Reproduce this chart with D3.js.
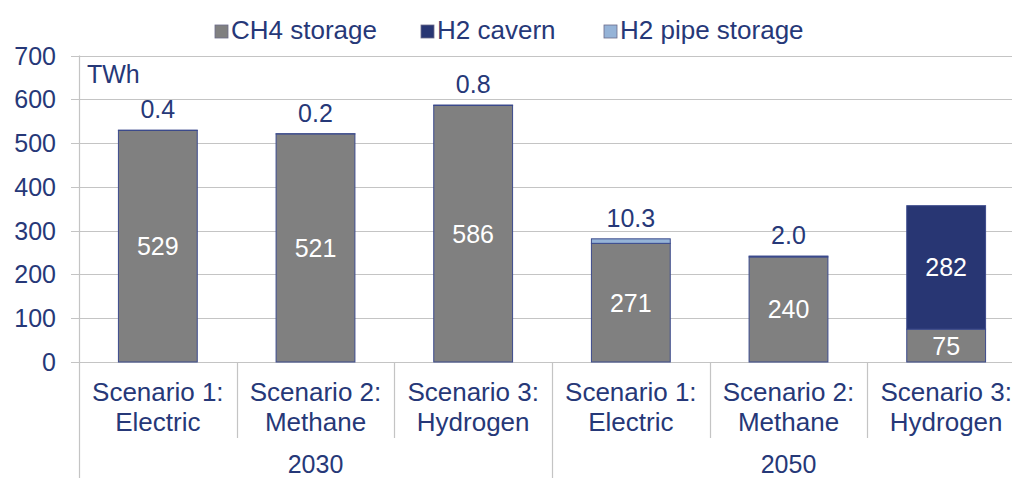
<!DOCTYPE html>
<html>
<head>
<meta charset="utf-8">
<script src="https://cdn.jsdelivr.net/npm/d3@7"></script>
<style>
  body { margin: 0; background: #fff; }
  text { font-family: "Liberation Sans", Arial, sans-serif; }
</style>
</head>
<body>
<div id="chart"></div>
<script>
var width = 1012;
var height = 478;

// data
var scenarios = ["Scenario 1:|Electric", "Scenario 2:|Methane", "Scenario 3:|Hydrogen",
                 "Scenario 1:|Electric", "Scenario 2:|Methane", "Scenario 3:|Hydrogen"];
var years = ["2030", "2030", "2030", "2050", "2050", "2050"];
var ch4Storage = [529, 521, 586, 271, 240, 75];
var h2Cavern = [0.4, 0.2, 0.8, 0, 2.0, 282];
var h2Pipe = [0, 0, 0, 10.3, 0, 0];
var yTicks = [0, 100, 200, 300, 400, 500, 600, 700];
var seriesNames = ["CH4 storage", "H2 cavern", "H2 pipe storage"];

var colors = ["#808080", "#283673", "#95b3d7"];
var textColor = "#263878";

var x0 = 79, plotRight = 1025, y0 = 362, yTop = 55.5;

var svg = d3.select("#chart")
            .append("svg")
            .attr("width", width)
            .attr("height", height);

var x = d3.scaleBand()
          .domain(d3.range(scenarios.length))
          .range([x0, plotRight])
          .paddingInner(0)
          .paddingOuter(0);

var y = d3.scaleLinear().domain([0, 700]).range([y0, yTop]);

// gridlines
svg.append("g").selectAll("line")
   .data(yTicks)
   .enter().append("line")
   .attr("x1", x0 - 8)
   .attr("x2", width)
   .attr("y1", function(d){ return Math.round(y(d)) + 0.5; })
   .attr("y2", function(d){ return Math.round(y(d)) + 0.5; })
   .attr("stroke", "#c4c4c4")
   .attr("stroke-width", 1.2);

// y labels
svg.append("g").selectAll("text")
   .data(yTicks)
   .enter().append("text")
   .attr("x", 56)
   .attr("y", function(d){ return y(d) + 9; })
   .attr("text-anchor", "end")
   .attr("fill", textColor)
   .style("font-size", "25px")
   .text(function(d){ return d; });

// vertical axis line
svg.append("line")
   .attr("x1", x0 + 0.5).attr("x2", x0 + 0.5)
   .attr("y1", yTop).attr("y2", height)
   .attr("stroke", "#c4c4c4").attr("stroke-width", 1.2);

// category separators
svg.append("g").selectAll("line")
   .data(d3.range(1, scenarios.length + 1))
   .enter().append("line")
   .attr("x1", function(i){ return Math.round(x0 + i * x.bandwidth()) + 0.5; })
   .attr("x2", function(i){ return Math.round(x0 + i * x.bandwidth()) + 0.5; })
   .attr("y1", y0)
   .attr("y2", function(i){ return years[i] !== years[i - 1] ? height : 438; })
   .attr("stroke", "#c4c4c4").attr("stroke-width", 1.2);

svg.append("text")
   .attr("x", 87).attr("y", 83)
   .attr("fill", textColor)
   .style("font-size", "25px")
   .text("TWh");

// stack
var rows = scenarios.map(function(s, i){
  return { i: i, ch4: ch4Storage[i], cavern: h2Cavern[i], pipe: h2Pipe[i] };
});
var stack = d3.stack().keys(["ch4", "cavern", "pipe"]);
var layers = stack(rows);

var barW = x.bandwidth() * 0.5;

var g = svg.append("g");
layers.forEach(function(layer, k){
  g.selectAll(".bar" + k)
   .data(layer)
   .enter().append("rect")
   .attr("x", function(d){ return x(d.data.i) + (x.bandwidth() - barW) / 2; })
   .attr("width", barW)
   .attr("y", function(d){ return y(d[1]); })
   .attr("height", function(d){ return y(d[0]) - y(d[1]); })
   .attr("fill", colors[k])
   .attr("stroke", function(d){ return d[1] - d[0] > 0 ? "#3b4a8c" : "none"; })
   .attr("stroke-width", 1);
});

// labels inside bars
layers.forEach(function(layer, k){
  g.selectAll(".lab" + k)
   .data(layer.filter(function(d){ return d[1] - d[0] > 50; }))
   .enter().append("text")
   .attr("x", function(d){ return x(d.data.i) + x.bandwidth() / 2; })
   .attr("y", function(d){ return y((d[0] + d[1]) / 2) + 9; })
   .attr("text-anchor", "middle")
   .attr("fill", "#fff")
   .style("font-size", "25px")
   .text(function(d){ return d[1] - d[0]; });
});

// small H2 labels above bars
g.selectAll(".top")
 .data(rows.filter(function(d){ return d.cavern + d.pipe > 0 && d.cavern + d.pipe < 50; }))
 .enter().append("text")
 .attr("x", function(d){ return x(d.i) + x.bandwidth() / 2; })
 .attr("y", function(d){ return y(d.ch4 + d.cavern + d.pipe) - 12; })
 .attr("text-anchor", "middle")
 .attr("fill", textColor)
 .style("font-size", "25px")
 .text(function(d){ return d3.format(".1f")(d.cavern + d.pipe); });

// category labels
var cat = svg.append("g").selectAll("text")
   .data(scenarios)
   .enter().append("text")
   .attr("text-anchor", "middle")
   .attr("fill", textColor)
   .style("font-size", "26px");
cat.each(function(s, i){
  var parts = s.split("|");
  var t = d3.select(this);
  parts.forEach(function(p, j){
    t.append("tspan")
     .attr("x", x(i) + x.bandwidth() / 2)
     .attr("y", 401 + j * 30)
     .text(p);
  });
});

// year labels
var yearGroups = d3.groups(d3.range(years.length), function(i){ return years[i]; });
svg.append("g").selectAll("text")
   .data(yearGroups)
   .enter().append("text")
   .attr("x", function(d){ return (x(d[1][0]) + x(d[1][d[1].length - 1]) + x.bandwidth()) / 2; })
   .attr("y", 473)
   .attr("text-anchor", "middle")
   .attr("fill", textColor)
   .style("font-size", "25px")
   .text(function(d){ return d[0]; });

// legend
var legendX = [215, 421, 604];
var legend = svg.append("g").selectAll("g")
   .data(seriesNames)
   .enter().append("g")
   .attr("transform", function(d, i){ return "translate(" + legendX[i] + ",25)"; });
legend.append("rect")
   .attr("width", 13).attr("height", 13)
   .attr("fill", function(d, i){ return colors[i]; })
   .attr("stroke", "#6b6b8a").attr("stroke-width", 0.8);
legend.append("text")
   .attr("x", 16).attr("y", 14)
   .attr("fill", textColor)
   .style("font-size", "26px")
   .text(function(d){ return d; });
</script>
</body>
</html>
